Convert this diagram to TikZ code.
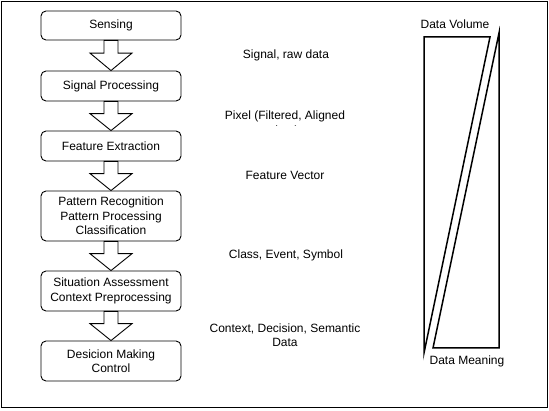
\documentclass[tikz,border=0pt]{standalone}
\usepackage{fontspec}
\setmainfont{Liberation Sans}
\usetikzlibrary{calc}
\begin{document}
\begin{tikzpicture}[x=1pt,y=-1pt,
  txt/.style={font=\fontsize{12}{14.5}\selectfont, align=center, inner sep=0pt},
  box/.style={txt, draw=black, line width=0.9pt, rounded corners=5pt, fill=white, minimum width=140pt},
  blockarrow/.style={draw=black, line width=0.9pt, fill=white, line join=miter},
  tri/.style={draw=black, line width=1.5pt, line join=miter}
]
\useasboundingbox (0,0) rectangle (549,411);
\draw[line width=0.9pt] (1,1) rectangle (547,407);

\node[box, minimum height=29pt] (s1) at (111,25.5) {Sensing};
\node[box, minimum height=30pt] (s2) at (111,86) {Signal Processing};
\node[box, minimum height=30pt] (s3) at (111,146) {Feature Extraction};
\node[box, minimum height=50pt] (s4) at (111,216) {Pattern Recognition\\Pattern Processing\\Classification};
\node[box, minimum height=40pt] (s5) at (111,291) {Situation Assessment\\Context Preprocessing};
\node[box, minimum height=40pt] (s6) at (111,361) {Desicion Making\\Control};

\foreach \a/\b in {s1/s2,s2/s3,s3/s4,s4/s5,s5/s6}{
  \path (\a.south) coordinate (top) (\b.north) coordinate (tip);
  \draw[blockarrow] ($(top)+(-7,0)$) -- ($(top)+(7,0)$) -- ($(top)!0.42!(tip)+(7,0)$) -- ($(top)!0.42!(tip)+(21,0)$) -- (tip) -- ($(top)!0.42!(tip)+(-21,0)$) -- ($(top)!0.42!(tip)+(-7,0)$) -- cycle;
}

\node[txt] (l1) at (286,55) {Signal, raw data};
\begin{scope}
  \clip (200,100) rectangle (370,126);
  \node[txt, anchor=north] (l2) at (285,111) {Pixel (Filtered, Aligned\\data)};
\end{scope}
\node[txt] (l3) at (285,175) {Feature Vector};
\node[txt] (l4) at (286,255) {Class, Event, Symbol};
\node[txt] (l5) at (285,335) {Context, Decision, Semantic\\Data};

\node[txt] (dv) at (455,24) {Data Volume};
\node[txt] (dm) at (467,361) {Data Meaning};
\coordinate (a1) at (424,37);
\coordinate (a2) at (490,37);
\coordinate (a3) at (424,353);
\coordinate (b1) at (499,33);
\coordinate (b2) at (499,348);
\coordinate (b3) at (433,348);
\draw[tri] (a1) -- (a2) -- (a3) -- cycle;
\draw[tri] (b1) -- (b2) -- (b3) -- cycle;
\end{tikzpicture}
\end{document}
